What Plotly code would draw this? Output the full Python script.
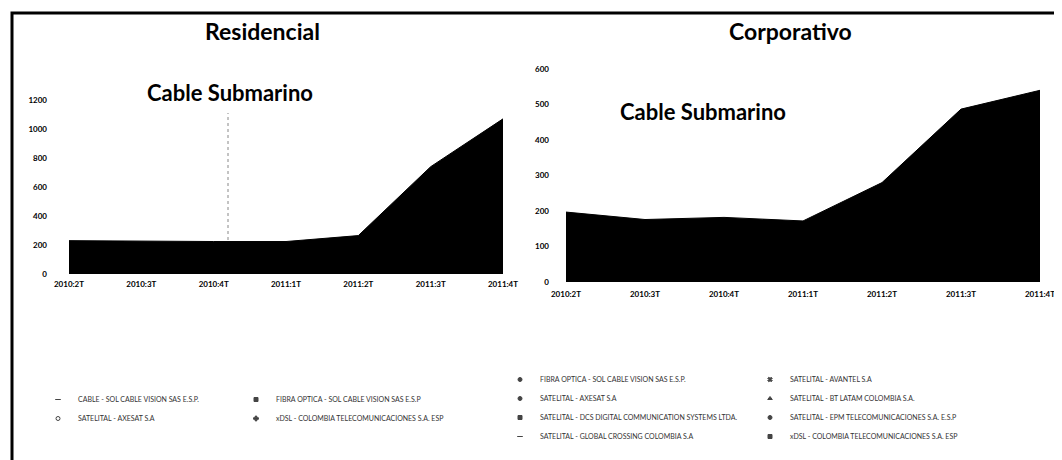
import plotly.graph_objects as go

# ---------------- data ----------------
quarters = ["2010:2T", "2010:3T", "2010:4T", "2011:1T", "2011:2T", "2011:3T", "2011:4T"]
residencial_cable_submarino = [230, 226, 224, 224, 265, 740, 1070]
corporativo_cable_submarino = [197, 176, 182, 172, 280, 487, 540]

res_y_ticks = [0, 200, 400, 600, 800, 1000, 1200]
corp_y_ticks = [0, 100, 200, 300, 400, 500, 600]

res_legend_col1 = ["CABLE - SOL CABLE VISION SAS E.S.P.", "SATELITAL - AXESAT S.A"]
res_legend_col2 = ["FIBRA OPTICA - SOL CABLE VISION SAS E.S.P", "xDSL - COLOMBIA TELECOMUNICACIONES S.A. ESP"]
corp_legend_col1 = ["FIBRA OPTICA - SOL CABLE VISION SAS E.S.P.", "SATELITAL - AXESAT S.A",
                    "SATELITAL - DCS DIGITAL COMMUNICATION SYSTEMS LTDA.", "SATELITAL - GLOBAL CROSSING COLOMBIA S.A"]
corp_legend_col2 = ["SATELITAL - AVANTEL S.A", "SATELITAL - BT LATAM COLOMBIA S.A.",
                    "SATELITAL - EPM TELECOMUNICACIONES S.A. E.S.P", "xDSL - COLOMBIA TELECOMUNICACIONES S.A. ESP"]

# ---------------- figure ----------------
W, H = 1062, 460
OFF = 8  # page body margin in the browser
fig = go.Figure()

fig.add_trace(go.Scatter(x=quarters, y=residencial_cable_submarino, mode="lines",
                         fill="tozeroy", fillcolor="black", line=dict(color="black", width=1),
                         showlegend=False, xaxis="x", yaxis="y"))
fig.add_trace(go.Scatter(x=quarters, y=corporativo_cable_submarino, mode="lines",
                         fill="tozeroy", fillcolor="black", line=dict(color="black", width=1),
                         showlegend=False, xaxis="x2", yaxis="y2"))

legend_sets = [
    (res_legend_col1, "legend", ["line-ew", "circle-open"]),
    (res_legend_col2, "legend2", ["square", "cross"]),
    (corp_legend_col1, "legend3", ["circle", "circle", "square", "line-ew"]),
    (corp_legend_col2, "legend4", ["x", "triangle-up", "circle", "square"]),
]
for names, lg, syms in legend_sets:
    for name, sym in zip(names, syms):
        fig.add_trace(go.Scatter(x=[None], y=[None], mode="markers", name=name,
                                 marker=dict(symbol=sym, size=4, color="#444",
                                             line=dict(color="#444", width=1)),
                                 legend=lg, xaxis="x", yaxis="y"))

tickfont = dict(family="Lato", size=8, color="black", weight="bold")

def px_x(p):
    return (p - OFF) / W

def px_y(p):
    return 1 - (p - OFF) / H

fig.update_layout(
    width=W, height=H,
    paper_bgcolor="white", plot_bgcolor="white",
    margin=dict(l=0, r=0, t=0, b=0, autoexpand=False),
    xaxis=dict(domain=[px_x(69), px_x(503)], type="category", range=[0, 6],
               showgrid=False, zeroline=False, showline=False, ticks="",
               tickfont=tickfont, ticklabelstandoff=4),
    yaxis=dict(domain=[px_y(274), px_y(100)], range=[0, 1200], tickvals=res_y_ticks,
               showgrid=False, zeroline=False, showline=False, ticks="",
               tickfont=tickfont, ticklabelstandoff=21),
    xaxis2=dict(domain=[px_x(566), px_x(1040)], type="category", range=[0, 6], anchor="y2",
                showgrid=False, zeroline=False, showline=False, ticks="",
                tickfont=tickfont, ticklabelstandoff=6),
    yaxis2=dict(domain=[px_y(282), px_y(69)], range=[0, 600], tickvals=corp_y_ticks, anchor="x2",
                showgrid=False, zeroline=False, showline=False, ticks="",
                tickfont=tickfont, ticklabelstandoff=16),
)

legend_font = dict(family="Lato", size=7, color="#333")
common_legend = dict(orientation="v", bgcolor="rgba(0,0,0,0)", font=legend_font,
                     xanchor="left", yanchor="top", itemwidth=30, borderwidth=0)
fig.update_layout(
    legend=dict(x=px_x(38), y=px_y(385), **common_legend),
    legend2=dict(x=px_x(236), y=px_y(385), **common_legend),
    legend3=dict(x=px_x(500), y=px_y(365), **common_legend),
    legend4=dict(x=px_x(750), y=px_y(365), **common_legend),
)

title_font = dict(family="Lato", size=23, color="black", weight="bold")
sub_font = dict(family="Lato", size=22, color="black", weight="bold")
ann = dict(xref="paper", yref="paper", showarrow=False, xanchor="center", yanchor="middle")
fig.add_annotation(text="Residencial", x=px_x(262), y=px_y(31), font=title_font, **ann)
fig.add_annotation(text="Corporativo", x=px_x(790), y=px_y(31), font=title_font, **ann)
fig.add_annotation(text="Cable Submarino", x=px_x(230), y=px_y(92), font=sub_font, **ann)
fig.add_annotation(text="Cable Submarino", x=px_x(703), y=px_y(111), font=sub_font, **ann)

# scanned-page frame
fig.add_shape(type="rect", xref="paper", yref="paper",
              x0=px_x(12), x1=1.05, y0=-0.05, y1=px_y(13),
              line=dict(color="black", width=3))
# faint dotted scan line
fig.add_shape(type="line", xref="paper", yref="paper",
              x0=px_x(228), x1=px_x(228), y0=px_y(240), y1=px_y(113),
              line=dict(color="#888", width=1, dash="dot"))

fig.write_html("out.html")
